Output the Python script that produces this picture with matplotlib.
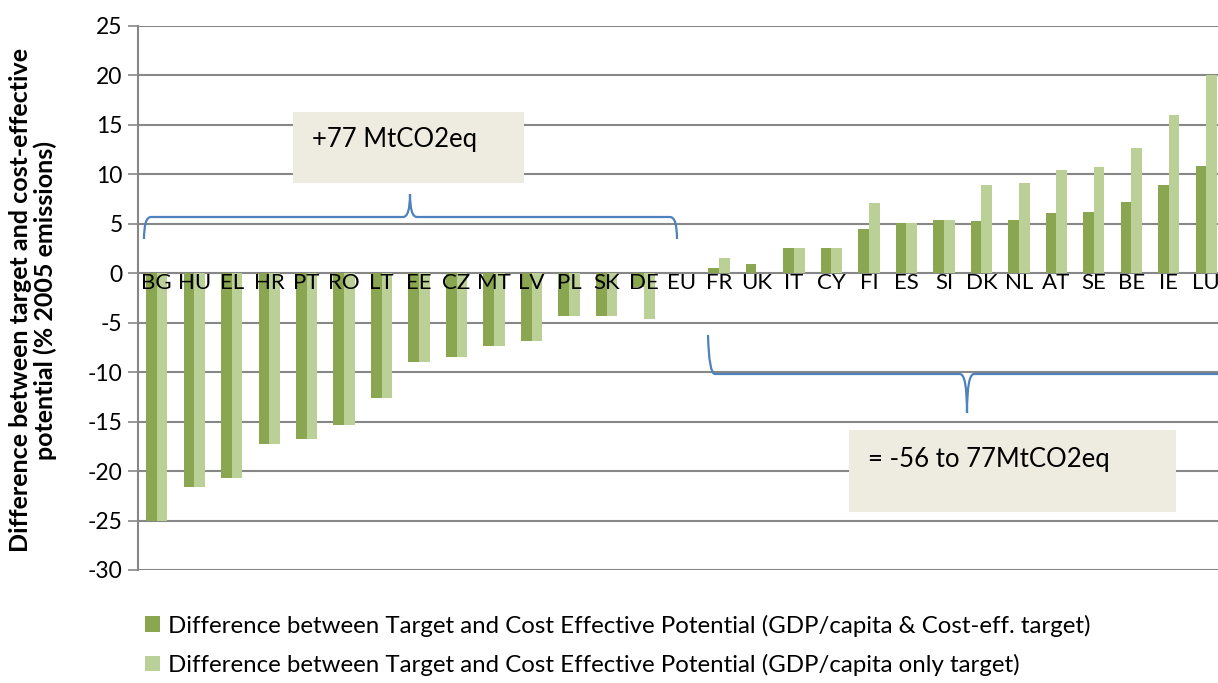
import matplotlib

matplotlib.use("Agg")
import matplotlib.pyplot as plt
import numpy as np
from matplotlib.patches import PathPatch, Rectangle
from matplotlib.path import Path

countries = ["BG", "HU", "EL", "HR", "PT", "RO", "LT", "EE", "CZ", "MT", "LV", "PL", "SK", "DE", "EU",
             "FR", "UK", "IT", "CY", "FI", "ES", "SI", "DK", "NL", "AT", "SE", "BE", "IE", "LU"]
gdp_and_cost = [-25.0, -21.6, -20.7, -17.3, -16.8, -15.3, -12.6, -9.0, -8.5, -7.4, -6.8, -4.3, -4.3, -1.35, 0.0,
                0.5, 0.95, 2.6, 2.6, 4.45, 5.05, 5.35, 5.3, 5.4, 6.1, 6.2, 7.25, 8.95, 10.85]
gdp_only = [-25.0, -21.6, -20.7, -17.3, -16.8, -15.3, -12.6, -9.0, -8.5, -7.4, -6.8, -4.3, -4.3, -4.65, 0.0,
            1.55, 0.0, 2.6, 2.6, 7.1, 5.05, 5.35, 8.95, 9.15, 10.45, 10.75, 12.65, 16.05, 20.0]
series_labels = [
    "Difference between Target and Cost Effective Potential (GDP/capita & Cost-eff. target)",
    "Difference between Target and Cost Effective Potential (GDP/capita only target)",
]

DARK = "#8AA650"
LIGHT = "#BBD097"
GRID = "#878787"
BRACE = "#4F81BD"
BOX = "#EEECE1"
W, H = 1218, 683

plt.rcParams["font.family"] = ["Lato", "DejaVu Sans"]
plt.rcParams["axes.unicode_minus"] = False

fig = plt.figure(figsize=(W / 100, H / 100), dpi=100)


def fx(px):
    return px / W


def fy(py):
    return 1 - py / H


# plot area from pixel measurements (extends past the right edge as in the source)
ax = fig.add_axes([fx(138), fy(570), fx(1225 - 138), fy(26) - fy(570)])

x = np.arange(len(countries))
bw = 0.285
ax.bar(x - bw / 2, gdp_and_cost, bw, color=DARK, zorder=2, label=series_labels[0])
ax.bar(x + bw / 2, gdp_only, bw, color=LIGHT, zorder=2, label=series_labels[1])

ax.set_xlim(-0.5, len(countries) - 0.5)
ax.set_ylim(-30, 25)
ax.set_yticks(np.arange(-30, 26, 5))
ax.tick_params(axis="y", labelsize=16.5, length=7, color=GRID, width=1.2, pad=4)
ax.set_xticks([])
ax.grid(axis="y", color=GRID, lw=1.5, zorder=0)
for s in ["top", "right", "bottom"]:
    ax.spines[s].set_visible(False)
ax.spines["left"].set_color(GRID)
ax.spines["left"].set_linewidth(1.5)

for i, c in enumerate(countries):
    ax.text(i, -1.0, c, ha="center", va="center", fontsize=16, zorder=3)

fig.text(fx(33), fy(300), "Difference between target and cost-effective\npotential (% 2005 emissions)",
         rotation=90, ha="center", va="center", fontsize=18, fontweight="bold", linespacing=1.1)

# annotation boxes
fig.patches.append(Rectangle((fx(293), fy(183)), fx(524 - 293), fy(112) - fy(183),
                             transform=fig.transFigure, facecolor=BOX, edgecolor="none", zorder=5))
fig.text(fx(312), fy(139), "+77 MtCO2eq", ha="left", va="center", fontsize=18.5, zorder=6)
fig.patches.append(Rectangle((fx(849), fy(512)), fx(1176 - 849), fy(430) - fy(512),
                             transform=fig.transFigure, facecolor=BOX, edgecolor="none", zorder=5))
fig.text(fx(868), fy(460), "= -56 to 77MtCO2eq", ha="left", va="center", fontsize=18.5, zorder=6)


def brace(points, codes):
    verts = [(fx(a), fy(b)) for a, b in points]
    fig.patches.append(PathPatch(Path(verts, codes), transform=fig.transFigure, fill=False,
                                 edgecolor=BRACE, lw=1.6, zorder=6))


M, L, C = Path.MOVETO, Path.LINETO, Path.CURVE3
brace([(144, 239), (144, 217), (151, 217), (403, 217), (410, 217), (410, 194),
       (410, 217), (417, 217), (670, 217), (677, 217), (677, 239)],
      [M, C, C, L, C, C, C, C, L, C, C])
brace([(708, 335), (709, 374), (715, 374), (960, 374), (967, 374), (967, 413),
       (967, 374), (974, 374), (1230, 374)],
      [M, C, C, L, C, C, C, C, L])

handles, labels = ax.get_legend_handles_labels()
fig.legend(handles, labels, loc="upper left", bbox_to_anchor=(fx(131), fy(600)), frameon=False,
           borderaxespad=0.2, fontsize=17.3, handlelength=0.62, handleheight=0.62, handletextpad=0.3,
           labelspacing=0.72)

fig.savefig("out.png", dpi=100)
